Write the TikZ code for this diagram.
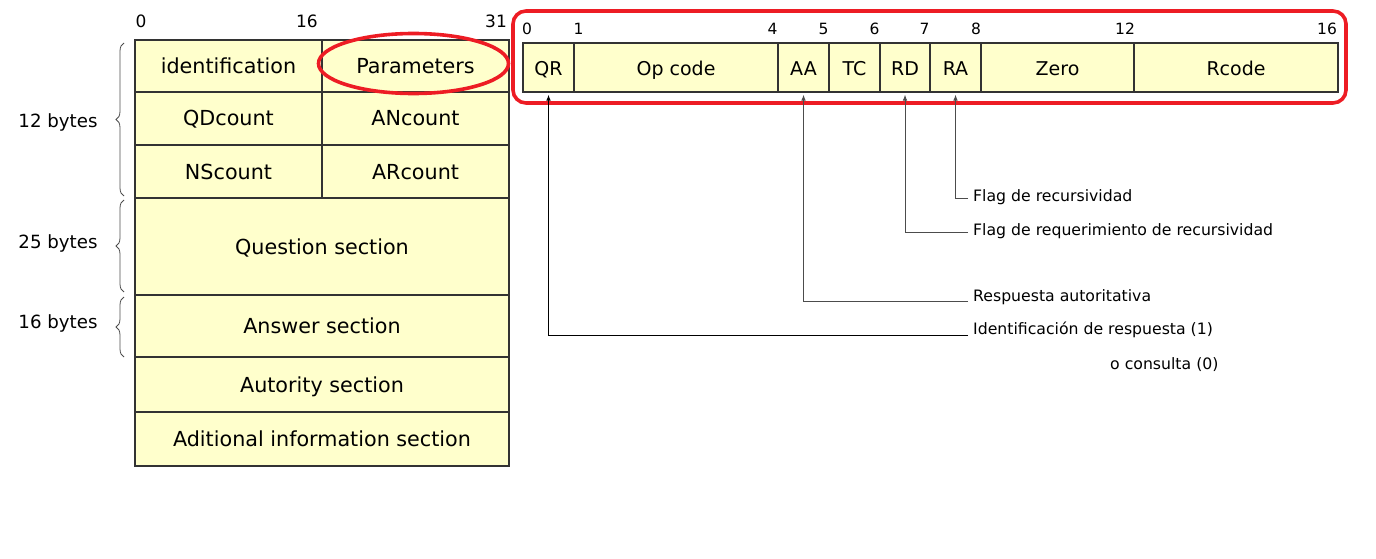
\documentclass[tikz,border=0pt]{standalone}
\usepackage{fontspec}
\setmainfont{DejaVu Sans}
\usetikzlibrary{decorations.pathreplacing,arrows.meta,shapes.geometric}
\definecolor{cellfill}{RGB}{255,255,204}
\definecolor{hlred}{RGB}{237,28,36}
\begin{document}
\begin{tikzpicture}[x=1pt,y=-1pt,
  cellbox/.style={draw=black!80,line width=1.1pt,fill=cellfill,inner sep=0pt,
    text height=17pt,text depth=2pt,font=\fontsize{20.7}{22}\selectfont},
  regbox/.style={draw=black!80,line width=1.1pt,fill=cellfill,inner sep=0pt,
    text height=18pt,text depth=2pt,
    minimum height=49pt,font=\fontsize{19}{21}\selectfont},
  numlbl/.style={inner sep=0pt,font=\fontsize{17}{19}\selectfont},
  bitlbl/.style={inner sep=0pt,font=\fontsize{15.5}{17}\selectfont},
  sizelbl/.style={inner sep=0pt,font=\fontsize{18.2}{20}\selectfont},
  flaglbl/.style={inner sep=0pt,anchor=west,font=\fontsize{15.7}{18}\selectfont},
  bracestyle/.style={draw=black!70,line width=0.8pt,decorate,decoration={brace,amplitude=8pt}},
  conn/.style={draw=black!70,line width=1pt,-{Latex[length=6pt,width=4.5pt]},shorten >=2pt},
  hl/.style={draw=hlred,line width=3.6pt}
]
\useasboundingbox (0,0) rectangle (1376,559);

% left table
\node[cellbox,minimum width=187pt,minimum height=52pt] (ident) at (228.5,66) {identification};
\node[cellbox,minimum width=187pt,minimum height=52pt] (param) at (415.5,66) {Parameters};
\node[cellbox,minimum width=187pt,minimum height=53pt] (qd) at (228.5,118.5) {QDcount};
\node[cellbox,minimum width=187pt,minimum height=53pt] (an) at (415.5,118.5) {ANcount};
\node[cellbox,minimum width=187pt,minimum height=53pt] (ns) at (228.5,171.5) {NScount};
\node[cellbox,minimum width=187pt,minimum height=53pt] (ar) at (415.5,171.5) {ARcount};
\node[cellbox,minimum width=374pt,minimum height=97pt] (quest) at (322,246.5) {Question section};
\node[cellbox,minimum width=374pt,minimum height=62pt] (answ) at (322,326) {Answer section};
\node[cellbox,minimum width=374pt,minimum height=55pt] (auth) at (322,384.5) {Autority section};
\node[cellbox,minimum width=374pt,minimum height=54pt] (addi) at (322,439) {Aditional information section};

\node[numlbl] (n0) at (141,21) {0};
\node[numlbl] (n16) at (307,21) {16};
\node[numlbl] (n31) at (496,21) {31};

% braces
\coordinate (b1a) at (124,196); \coordinate (b1b) at (124,43);
\coordinate (b2a) at (124,292); \coordinate (b2b) at (124,200);
\coordinate (b3a) at (124,357); \coordinate (b3b) at (124,297);
\draw[bracestyle] (b1a) -- (b1b);
\draw[bracestyle] (b2a) -- (b2b);
\draw[bracestyle] (b3a) -- (b3b);
\node[sizelbl] (s12) at (58,122) {12 bytes};
\node[sizelbl] (s25) at (58,243) {25 bytes};
\node[sizelbl] (s16) at (58,323) {16 bytes};

% highlight ellipse
\draw[hl] (413.5,63.5) ellipse [x radius=95pt, y radius=30pt];

% register
\node[regbox,minimum width=51pt] (QR) at (548.5,67.5) {QR};
\node[regbox,minimum width=204pt] (OP) at (676,67.5) {Op code};
\node[regbox,minimum width=51pt] (AA) at (803.5,67.5) {AA};
\node[regbox,minimum width=51pt] (TC) at (854.5,67.5) {TC};
\node[regbox,minimum width=50pt] (RD) at (905,67.5) {RD};
\node[regbox,minimum width=51pt] (RA) at (955.5,67.5) {RA};
\node[regbox,minimum width=153pt] (ZE) at (1057.5,67.5) {Zero};
\node[regbox,minimum width=204pt] (RC) at (1236,67.5) {Rcode};

\node[bitlbl] (r0) at (527,29) {0};
\node[bitlbl] (r1) at (578.5,29) {1};
\node[bitlbl] (r4) at (772.5,29) {4};
\node[bitlbl] (r5) at (823.5,29) {5};
\node[bitlbl] (r6) at (874.5,29) {6};
\node[bitlbl] (r7) at (924.5,29) {7};
\node[bitlbl] (r8) at (976,29) {8};
\node[bitlbl] (r12) at (1125,29) {12};
\node[bitlbl] (r16) at (1327,29) {16};

\draw[hl,rounded corners=13pt] (513,11) rectangle (1346,103);

% flag labels
\node[flaglbl] (lRA) at (973,197) {Flag de recursividad};
\node[flaglbl] (lRD) at (973,231) {Flag de requerimiento de recursividad};
\node[flaglbl] (lAA) at (973,297.5) {Respuesta autoritativa};
\node[flaglbl] (lQR) at (973,330) {Identificación de respuesta (1)};
\node[flaglbl] (lQR2) at (1110,365) {o consulta (0)};

\coordinate (eRA) at (968,198);
\coordinate (eRD) at (968,232);
\coordinate (eAA) at (968,301);
\coordinate (eQR) at (968,335);
\draw[conn] (eRA) -| (RA.south);
\draw[conn] (eRD) -| (RD.south);
\draw[conn] (eAA) -| (AA.south);
\draw[conn,draw=black] (eQR) -| (QR.south);
\end{tikzpicture}
\end{document}
